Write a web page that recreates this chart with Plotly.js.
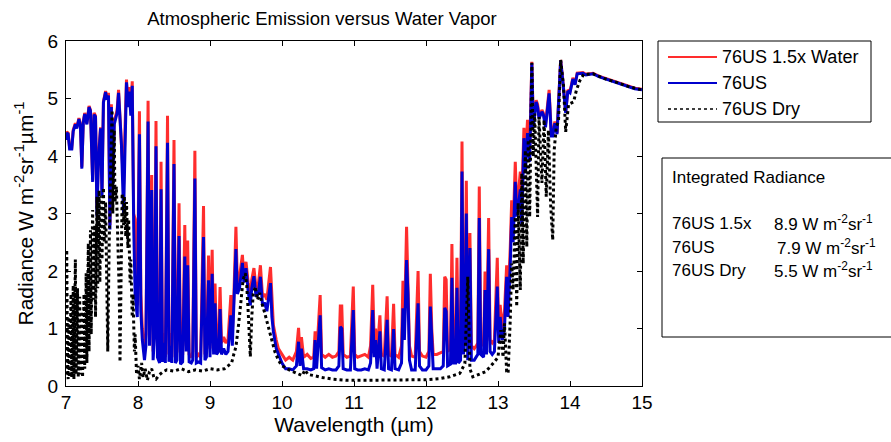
<!DOCTYPE html>
<html><head><meta charset="utf-8">
<script src="https://cdn.plot.ly/plotly-3.0.1.min.js"></script>
<style>html,body{margin:0;padding:0;background:#fff}#chart{width:891px;height:442px}</style>
</head><body><div id="chart"></div><script>
// ---- data ----
const wavelength = [7.00,7.01,7.03,7.05,7.08,7.10,7.13,7.15,7.18,7.20,7.22,7.24,7.26,7.29,7.32,7.34,7.37,7.39,7.41,7.43,7.45,7.48,7.50,7.52,7.55,7.57,7.59,7.61,7.63,7.65,7.67,7.71,7.73,7.75,7.77,7.80,7.82,7.84,7.86,7.88,7.90,7.92,7.94,7.96,7.99,8.02,8.04,8.06,8.09,8.11,8.14,8.16,8.19,8.21,8.23,8.25,8.27,8.30,8.32,8.34,8.36,8.38,8.41,8.43,8.45,8.47,8.50,8.52,8.54,8.57,8.59,8.62,8.65,8.67,8.69,8.71,8.74,8.76,8.79,8.81,8.84,8.87,8.91,8.93,8.95,8.98,9.00,9.03,9.05,9.07,9.09,9.12,9.14,9.16,9.19,9.22,9.25,9.29,9.31,9.33,9.36,9.38,9.41,9.45,9.47,9.50,9.53,9.56,9.58,9.61,9.64,9.67,9.70,9.73,9.76,9.79,9.84,9.86,9.88,9.92,9.95,10.00,10.05,10.10,10.15,10.20,10.23,10.25,10.27,10.30,10.35,10.40,10.44,10.46,10.48,10.53,10.55,10.60,10.65,10.70,10.75,10.79,10.81,10.83,10.85,10.90,10.95,10.99,11.01,11.05,11.10,11.15,11.20,11.23,11.26,11.28,11.30,11.32,11.36,11.38,11.42,11.46,11.48,11.52,11.55,11.57,11.62,11.66,11.68,11.70,11.73,11.75,11.77,11.80,11.85,11.89,11.91,11.95,12.00,12.04,12.06,12.08,12.10,12.15,12.20,12.24,12.26,12.28,12.30,12.34,12.36,12.38,12.41,12.43,12.45,12.48,12.50,12.52,12.54,12.56,12.58,12.61,12.63,12.67,12.70,12.72,12.74,12.76,12.80,12.82,12.84,12.87,12.89,12.92,12.95,12.99,13.01,13.03,13.06,13.09,13.12,13.14,13.17,13.19,13.21,13.24,13.26,13.28,13.31,13.33,13.36,13.38,13.41,13.44,13.47,13.49,13.53,13.55,13.57,13.61,13.63,13.66,13.71,13.74,13.76,13.79,13.82,13.87,13.90,13.94,13.97,14.00,14.04,14.07,14.10,14.18,14.22,14.32,14.40,14.47,14.60,14.70,14.83,14.90,15.00];

const radianceWet = [4.30,4.42,4.40,4.15,4.14,4.45,4.57,4.50,4.66,4.55,3.81,4.60,4.75,4.57,4.87,4.80,3.58,4.75,4.70,3.10,4.00,4.50,3.40,4.95,5.13,5.00,5.10,2.80,4.90,3.60,4.60,4.80,5.15,4.60,4.30,3.50,4.50,5.33,4.90,5.20,4.80,5.30,3.00,2.90,1.40,4.78,1.60,1.00,0.60,0.90,4.96,0.90,3.67,0.60,1.10,4.61,0.70,0.50,3.90,0.55,0.92,0.50,4.70,0.55,0.92,0.50,4.28,0.50,0.60,3.18,0.50,0.55,2.80,0.70,2.53,0.55,0.50,0.60,4.09,0.50,0.55,0.50,3.13,0.55,0.60,2.27,0.65,2.37,0.70,1.78,0.75,0.80,1.72,0.75,0.85,0.75,0.80,1.58,0.90,1.50,2.77,1.80,1.90,2.28,1.90,2.16,1.80,1.60,1.85,2.05,1.70,1.75,2.10,1.55,1.60,1.50,2.07,1.50,1.06,0.80,0.65,0.55,0.45,0.50,0.45,0.60,1.01,0.55,0.85,0.50,0.55,0.48,0.50,0.95,0.50,1.58,0.55,0.50,0.55,0.50,0.52,0.60,1.39,1.39,0.55,0.50,0.52,1.73,0.55,0.50,0.52,0.55,0.50,0.70,1.76,0.80,1.00,0.55,1.23,0.55,0.52,1.56,0.55,0.52,1.43,0.55,0.50,0.70,1.83,1.00,2.77,1.80,0.70,0.52,0.50,2.00,0.60,0.52,0.50,0.60,1.95,1.00,0.55,0.55,0.58,0.60,1.90,1.85,0.60,0.65,2.47,0.65,0.65,2.23,0.65,0.70,4.25,0.80,1.00,3.57,0.70,2.66,0.70,0.65,0.70,0.75,3.47,0.75,0.70,1.99,0.75,2.92,0.80,0.75,0.80,2.23,0.90,1.41,1.00,1.30,2.10,1.50,2.40,3.23,2.70,3.90,3.10,3.30,3.73,3.20,4.49,3.90,4.63,4.10,5.64,4.60,4.97,4.90,4.68,4.80,4.75,4.55,5.15,4.40,4.40,4.60,4.40,5.67,5.32,4.77,5.15,5.12,5.36,5.25,5.44,5.45,5.42,5.44,5.39,5.36,5.31,5.27,5.21,5.18,5.16];

const radianceUS = [4.28,4.40,4.38,4.12,4.12,4.43,4.55,4.48,4.64,4.53,3.78,4.58,4.73,4.55,4.85,4.78,3.55,4.72,4.68,2.95,3.90,4.48,3.30,4.93,5.11,4.98,5.05,2.72,4.85,3.50,4.55,4.75,5.10,4.55,4.20,3.00,4.40,5.28,4.85,5.12,4.70,5.22,2.80,1.60,1.20,4.38,1.30,0.80,0.45,0.70,4.60,0.70,3.41,0.45,0.90,4.17,0.50,0.40,3.42,0.42,0.75,0.40,4.23,0.42,0.70,0.40,3.86,0.40,0.45,2.61,0.38,0.42,2.25,0.60,2.10,0.42,0.40,0.45,3.61,0.40,0.42,0.40,2.59,0.45,0.50,1.84,0.50,1.95,0.55,1.44,0.55,0.60,1.34,0.55,0.65,0.55,0.60,1.23,0.70,1.30,2.38,1.60,1.70,2.14,1.80,2.05,1.65,1.40,1.70,1.91,1.55,1.60,1.90,1.40,1.45,1.30,1.79,1.20,0.95,0.65,0.55,0.40,0.30,0.30,0.28,0.35,0.77,0.35,0.65,0.30,0.30,0.28,0.30,0.80,0.30,1.23,0.32,0.28,0.30,0.28,0.28,0.35,1.03,1.00,0.30,0.28,0.28,1.32,0.30,0.28,0.28,0.30,0.28,0.40,1.32,0.50,0.80,0.30,0.95,0.30,0.28,1.15,0.30,0.28,0.99,0.30,0.28,0.40,1.35,0.80,2.19,1.60,0.45,0.28,0.28,1.44,0.35,0.28,0.28,0.35,1.38,0.70,0.30,0.30,0.30,0.35,1.36,1.30,0.35,0.38,1.88,0.40,0.40,1.71,0.40,0.45,3.73,0.55,0.80,3.00,0.45,2.40,0.45,0.45,0.50,0.55,2.92,0.55,0.50,1.67,0.55,2.38,0.60,0.55,0.60,1.73,0.75,1.20,0.80,1.00,1.90,1.20,2.10,2.94,2.50,3.55,2.95,3.10,3.42,2.80,4.31,3.70,4.40,3.90,5.61,4.50,4.94,4.85,4.65,4.77,4.72,4.50,5.09,4.35,4.35,4.57,4.38,5.66,5.30,4.75,5.13,5.10,5.34,5.24,5.43,5.44,5.41,5.43,5.38,5.35,5.30,5.26,5.20,5.17,5.15];

const wavelengthDry = [7.00,7.01,7.02,7.03,7.04,7.05,7.07,7.08,7.10,7.11,7.13,7.14,7.16,7.17,7.19,7.20,7.22,7.23,7.25,7.26,7.28,7.29,7.31,7.32,7.34,7.35,7.37,7.38,7.40,7.41,7.43,7.44,7.46,7.47,7.49,7.50,7.52,7.53,7.55,7.57,7.58,7.60,7.62,7.64,7.65,7.67,7.68,7.70,7.72,7.74,7.75,7.77,7.78,7.80,7.81,7.83,7.84,7.86,7.87,7.89,7.90,7.92,7.93,7.95,7.96,7.98,8.00,8.02,8.05,8.07,8.10,8.13,8.16,8.19,8.22,8.25,8.30,8.35,8.40,8.50,8.60,8.70,8.80,8.90,9.00,9.10,9.20,9.25,9.30,9.33,9.36,9.40,9.43,9.46,9.49,9.51,9.53,9.56,9.58,9.60,9.63,9.66,9.69,9.72,9.76,9.80,9.85,9.90,9.95,10.00,10.10,10.20,10.28,10.32,10.36,10.45,10.55,10.70,10.90,11.20,11.50,11.80,12.00,12.20,12.33,12.47,12.54,12.58,12.61,12.65,12.74,12.83,12.93,13.00,13.04,13.07,13.09,13.12,13.14,13.17,13.19,13.21,13.24,13.26,13.28,13.31,13.33,13.35,13.38,13.40,13.42,13.44,13.47,13.49,13.51,13.55,13.57,13.61,13.64,13.67,13.70,13.73,13.76,13.78,13.81,13.84,13.87,13.91,13.94,13.98,14.05,14.09,14.14,14.19,14.32,14.47,14.60,14.83,15.00];

const radianceDry = [0.20,2.37,0.60,0.12,1.20,0.15,1.60,0.15,1.75,0.12,2.20,0.20,1.70,0.15,1.55,0.20,1.30,0.15,1.60,0.30,1.96,0.40,2.48,0.60,2.71,0.90,3.06,1.50,2.80,1.20,3.29,1.70,3.40,1.80,3.30,2.20,3.45,2.50,3.20,1.50,0.60,2.50,4.00,4.80,3.00,4.45,3.20,3.47,2.50,1.60,0.42,2.50,3.35,2.80,3.30,2.60,3.20,2.40,2.90,1.80,2.20,1.20,1.60,0.60,0.90,0.20,0.35,0.12,0.40,0.15,0.30,0.10,0.25,0.30,0.15,0.12,0.20,0.25,0.28,0.26,0.30,0.25,0.28,0.26,0.30,0.28,0.30,0.35,0.40,0.55,0.68,1.10,1.50,1.85,1.96,1.75,1.30,0.51,1.20,1.60,1.73,1.50,1.62,1.44,1.27,1.09,0.86,0.60,0.45,0.35,0.28,0.22,0.18,0.28,0.20,0.18,0.15,0.12,0.10,0.10,0.10,0.10,0.11,0.13,0.16,0.22,0.39,1.90,0.30,0.16,0.20,0.25,0.39,0.50,0.97,0.50,1.09,0.25,0.22,1.15,2.13,1.67,2.94,1.38,3.18,1.67,3.70,2.13,4.10,2.42,4.28,2.94,5.62,3.99,4.74,2.94,4.68,3.53,4.63,3.29,4.45,3.18,2.54,4.10,4.51,4.60,5.67,5.22,4.42,4.90,4.94,5.15,5.32,5.42,5.43,5.35,5.30,5.20,5.15];

const seriesNames = ['76US 1.5x Water', '76US', '76US Dry'];
const seriesColors = ['rgb(255,45,45)', 'rgb(0,0,205)', 'rgb(0,0,0)'];
const integratedTitle = 'Integrated Radiance';
const integratedLabels = ['76US 1.5x', '76US', '76US Dry'];
const integratedValues = ['8.9', '7.9', '5.5'];
const xTickValues = [7, 8, 9, 10, 11, 12, 13, 14, 15];
const yTickValues = [0, 1, 2, 3, 4, 5, 6];

// ---- layout helpers (pixel -> paper) ----
const PL = 66, PR = 642, PT = 41, PB = 386;
const px = v => (v - PL) / (PR - PL);
const py = v => (PB - v) / (PB - PT);
const FONT = 'Liberation Sans, Arial, Helvetica, sans-serif';
const unit = ' W m<sup>-2</sup>sr<sup>-1</sup>';

const traces = [
  {x: wavelength, y: radianceWet, name: seriesNames[0], type: 'scatter', mode: 'lines',
   line: {color: seriesColors[0], width: 3}, showlegend: false},
  {x: wavelength, y: radianceUS, name: seriesNames[1], type: 'scatter', mode: 'lines',
   line: {color: seriesColors[1], width: 3}, showlegend: false},
  {x: wavelengthDry, y: radianceDry, name: seriesNames[2], type: 'scatter', mode: 'lines',
   line: {color: seriesColors[2], width: 3, dash: 'dot'}, showlegend: false}
];

const shapes = [
  {type: 'rect', xref: 'paper', yref: 'paper', x0: px(658), x1: px(871), y0: py(41), y1: py(122),
   line: {color: '#000', width: 1}, fillcolor: 'rgba(0,0,0,0)'},
  {type: 'rect', xref: 'paper', yref: 'paper', x0: px(662), x1: px(900), y0: py(158), y1: py(337),
   line: {color: '#000', width: 1}, fillcolor: 'rgba(0,0,0,0)'}
];
const legendRows = [57, 83, 109];
const annotations = [];
seriesNames.forEach((n, i) => {
  shapes.push({type: 'line', xref: 'paper', yref: 'paper', x0: px(668), x1: px(717),
    y0: py(legendRows[i]), y1: py(legendRows[i]),
    line: {color: seriesColors[i], width: i === 2 ? 1.5 : 2, dash: i === 2 ? 'dot' : 'solid'}});
  annotations.push({xref: 'paper', yref: 'paper', x: px(720), y: py(legendRows[i]),
    xanchor: 'left', yanchor: 'middle', text: n, showarrow: false,
    font: {family: FONT, size: 18, color: '#000'}});
});
annotations.push({xref: 'paper', yref: 'paper', x: px(670), y: py(177), xanchor: 'left', yanchor: 'middle',
  text: integratedTitle, showarrow: false, font: {family: FONT, size: 17, color: '#000'}});
const infoRows = [223, 247, 270];
const valueX = [772, 775, 772];
integratedLabels.forEach((l, i) => {
  annotations.push({xref: 'paper', yref: 'paper', x: px(670), y: py(infoRows[i]), xanchor: 'left', yanchor: 'middle',
    text: l, showarrow: false, font: {family: FONT, size: 17, color: '#000'}});
  annotations.push({xref: 'paper', yref: 'paper', x: px(valueX[i]), y: py(infoRows[i]), xanchor: 'left', yanchor: 'middle',
    text: integratedValues[i] + unit, showarrow: false, font: {family: FONT, size: 17, color: '#000'}});
});

const axisCommon = {showline: true, linecolor: '#000', linewidth: 1, mirror: 'ticks', ticks: 'inside',
  ticklen: 5, tickcolor: '#000', tickwidth: 1, showgrid: false, zeroline: false,
  tickfont: {family: FONT, size: 19, color: '#000'}};

const layout = {
  width: 891, height: 442,
  margin: {l: PL, r: 891 - PR, t: PT, b: 442 - PB, pad: 0},
  paper_bgcolor: '#fff', plot_bgcolor: '#fff',
  title: {text: 'Atmospheric Emission versus Water Vapor', font: {family: FONT, size: 18.5, color: '#000'},
    x: 322 / 891, xanchor: 'center', xref: 'container', y: 1 - 19 / 442, yanchor: 'middle', yref: 'container'},
  xaxis: Object.assign({}, axisCommon, {range: [7, 15], tickvals: xTickValues, ticklabelstandoff: -1,
    title: {text: 'Wavelength (µm)', font: {family: FONT, size: 21, color: '#000'}, standoff: 1}}),
  yaxis: Object.assign({}, axisCommon, {range: [0, 6], tickvals: yTickValues, ticklabelstandoff: 3,
    title: {text: 'Radiance' + ' W m<sup>-2</sup>sr<sup>-1</sup>µm<sup>-1</sup>', font: {family: FONT, size: 21, color: '#000'}, standoff: 8}}),
  shapes: shapes, annotations: annotations, showlegend: false
};

Plotly.newPlot('chart', traces, layout, {staticPlot: true, displayModeBar: false});
</script></body></html>
